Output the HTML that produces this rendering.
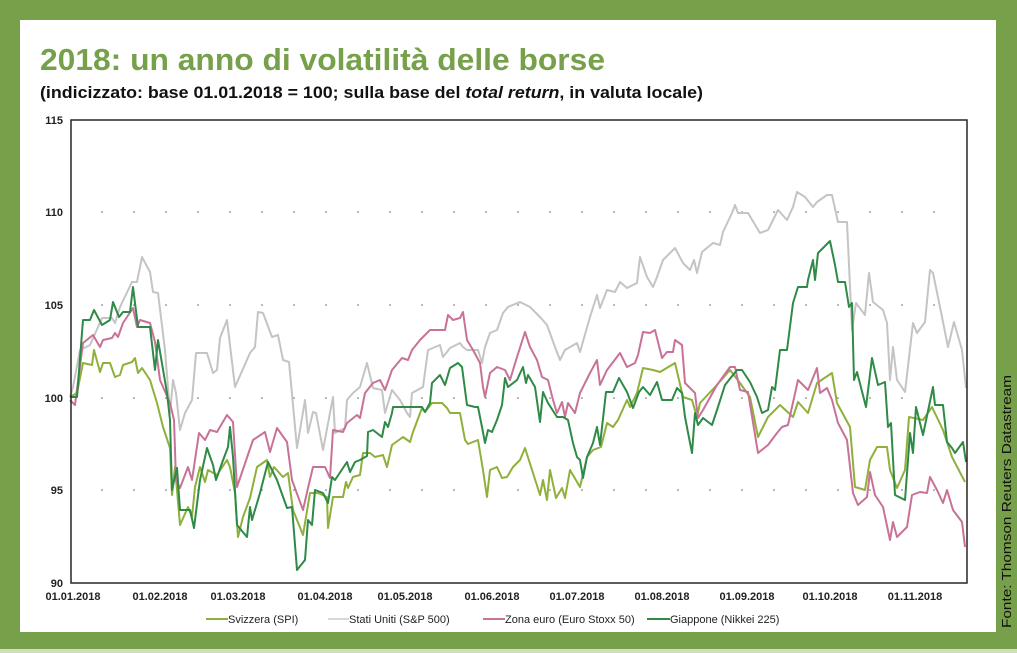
<!DOCTYPE html>
<html><head><meta charset="utf-8"><style>
html,body{margin:0;padding:0;background:#77a04a;}
svg{display:block;font-family:"Liberation Sans",sans-serif;}
</style></head><body>
<svg width="1017" height="653" viewBox="0 0 1017 653" xmlns="http://www.w3.org/2000/svg">
<rect x="0" y="0" width="1017" height="653" fill="#77a04a"/>
<rect x="0" y="649" width="1017" height="4" fill="#cfdcc0"/>
<rect x="20" y="20" width="976" height="612" fill="#ffffff"/>
<text x="40" y="70" font-size="31" font-weight="bold" fill="#77a04a" textLength="565" lengthAdjust="spacingAndGlyphs">2018: un anno di volatilità delle borse</text>
<text x="40" y="98" font-size="17" font-weight="bold" fill="#111" textLength="663" lengthAdjust="spacingAndGlyphs">(indicizzato: base 01.01.2018 = 100; sulla base del <tspan font-style="italic">total return</tspan>, in valuta locale)</text>
<g fill="#555">
<g id="dots"></g>
</g>
<g font-size="11" font-weight="bold" fill="#222" text-anchor="end">
<text x="63" y="124">115</text><text x="63" y="216">110</text><text x="63" y="309">105</text><text x="63" y="402">100</text><text x="63" y="494">95</text><text x="63" y="587">90</text>
</g>
<g font-size="11" font-weight="bold" fill="#222" text-anchor="middle">
<text x="73" y="600">01.01.2018</text><text x="160" y="600">01.02.2018</text><text x="238" y="600">01.03.2018</text><text x="325" y="600">01.04.2018</text><text x="405" y="600">01.05.2018</text><text x="492" y="600">01.06.2018</text><text x="577" y="600">01.07.2018</text><text x="662" y="600">01.08.2018</text><text x="747" y="600">01.09.2018</text><text x="830" y="600">01.10.2018</text><text x="915" y="600">01.11.2018</text>
</g>
<g fill="#666">
<circle cx="102" cy="212" r="0.8"/><circle cx="134" cy="212" r="0.8"/><circle cx="166" cy="212" r="0.8"/><circle cx="198" cy="212" r="0.8"/><circle cx="230" cy="212" r="0.8"/><circle cx="262" cy="212" r="0.8"/><circle cx="294" cy="212" r="0.8"/><circle cx="326" cy="212" r="0.8"/><circle cx="358" cy="212" r="0.8"/><circle cx="390" cy="212" r="0.8"/><circle cx="422" cy="212" r="0.8"/><circle cx="454" cy="212" r="0.8"/><circle cx="486" cy="212" r="0.8"/><circle cx="518" cy="212" r="0.8"/><circle cx="550" cy="212" r="0.8"/><circle cx="582" cy="212" r="0.8"/><circle cx="614" cy="212" r="0.8"/><circle cx="646" cy="212" r="0.8"/><circle cx="678" cy="212" r="0.8"/><circle cx="710" cy="212" r="0.8"/><circle cx="742" cy="212" r="0.8"/><circle cx="774" cy="212" r="0.8"/><circle cx="806" cy="212" r="0.8"/><circle cx="838" cy="212" r="0.8"/><circle cx="870" cy="212" r="0.8"/><circle cx="902" cy="212" r="0.8"/><circle cx="934" cy="212" r="0.8"/>
</g>
<g fill="#666">
<circle cx="102" cy="305" r="0.8"/><circle cx="134" cy="305" r="0.8"/><circle cx="166" cy="305" r="0.8"/><circle cx="198" cy="305" r="0.8"/><circle cx="230" cy="305" r="0.8"/><circle cx="262" cy="305" r="0.8"/><circle cx="294" cy="305" r="0.8"/><circle cx="326" cy="305" r="0.8"/><circle cx="358" cy="305" r="0.8"/><circle cx="390" cy="305" r="0.8"/><circle cx="422" cy="305" r="0.8"/><circle cx="454" cy="305" r="0.8"/><circle cx="486" cy="305" r="0.8"/><circle cx="518" cy="305" r="0.8"/><circle cx="550" cy="305" r="0.8"/><circle cx="582" cy="305" r="0.8"/><circle cx="614" cy="305" r="0.8"/><circle cx="646" cy="305" r="0.8"/><circle cx="678" cy="305" r="0.8"/><circle cx="710" cy="305" r="0.8"/><circle cx="742" cy="305" r="0.8"/><circle cx="774" cy="305" r="0.8"/><circle cx="806" cy="305" r="0.8"/><circle cx="838" cy="305" r="0.8"/><circle cx="870" cy="305" r="0.8"/><circle cx="902" cy="305" r="0.8"/><circle cx="934" cy="305" r="0.8"/>
<circle cx="102" cy="398" r="0.8"/><circle cx="134" cy="398" r="0.8"/><circle cx="166" cy="398" r="0.8"/><circle cx="198" cy="398" r="0.8"/><circle cx="230" cy="398" r="0.8"/><circle cx="262" cy="398" r="0.8"/><circle cx="294" cy="398" r="0.8"/><circle cx="326" cy="398" r="0.8"/><circle cx="358" cy="398" r="0.8"/><circle cx="390" cy="398" r="0.8"/><circle cx="422" cy="398" r="0.8"/><circle cx="454" cy="398" r="0.8"/><circle cx="486" cy="398" r="0.8"/><circle cx="518" cy="398" r="0.8"/><circle cx="550" cy="398" r="0.8"/><circle cx="582" cy="398" r="0.8"/><circle cx="614" cy="398" r="0.8"/><circle cx="646" cy="398" r="0.8"/><circle cx="678" cy="398" r="0.8"/><circle cx="710" cy="398" r="0.8"/><circle cx="742" cy="398" r="0.8"/><circle cx="774" cy="398" r="0.8"/><circle cx="806" cy="398" r="0.8"/><circle cx="838" cy="398" r="0.8"/><circle cx="870" cy="398" r="0.8"/><circle cx="902" cy="398" r="0.8"/><circle cx="934" cy="398" r="0.8"/>
<circle cx="102" cy="490" r="0.8"/><circle cx="134" cy="490" r="0.8"/><circle cx="166" cy="490" r="0.8"/><circle cx="198" cy="490" r="0.8"/><circle cx="230" cy="490" r="0.8"/><circle cx="262" cy="490" r="0.8"/><circle cx="294" cy="490" r="0.8"/><circle cx="326" cy="490" r="0.8"/><circle cx="358" cy="490" r="0.8"/><circle cx="390" cy="490" r="0.8"/><circle cx="422" cy="490" r="0.8"/><circle cx="454" cy="490" r="0.8"/><circle cx="486" cy="490" r="0.8"/><circle cx="518" cy="490" r="0.8"/><circle cx="550" cy="490" r="0.8"/><circle cx="582" cy="490" r="0.8"/><circle cx="614" cy="490" r="0.8"/><circle cx="646" cy="490" r="0.8"/><circle cx="678" cy="490" r="0.8"/><circle cx="710" cy="490" r="0.8"/><circle cx="742" cy="490" r="0.8"/><circle cx="774" cy="490" r="0.8"/><circle cx="806" cy="490" r="0.8"/><circle cx="838" cy="490" r="0.8"/><circle cx="870" cy="490" r="0.8"/><circle cx="902" cy="490" r="0.8"/><circle cx="934" cy="490" r="0.8"/>
</g>
<g fill="none" stroke-width="2" stroke-linejoin="round">
<polyline stroke="#c4c4c4" points="70,397 73,387 80,350 90,345 102,318 112,318 115,323 120,307 132,282 137,282 142,257 150,272 153,292 158,293 165,350 170,413 173,380 176,393 180,430 185,413 192,400 196,353 207,353 213,373 217,370 220,338 227,320 235,387 250,353 255,347 258,312 263,313 272,337 278,335 283,360 289,362 297,448 305,400 308,433 313,412 316,413 323,450 333,397 335,433 345,428 347,400 353,393 360,387 367,363 373,388 382,390 385,413 392,390 400,400 407,413 410,417 412,393 423,387 428,350 440,345 443,357 450,348 460,343 463,347 467,350 478,350 482,363 485,347 490,333 497,330 503,313 508,307 520,302 530,307 540,317 547,325 555,347 560,360 565,350 577,343 580,352 590,317 597,295 600,308 607,290 615,292 620,282 627,288 637,283 640,257 647,277 653,287 657,277 663,260 675,248 683,263 690,270 694,260 697,273 702,252 713,243 720,245 723,232 732,213 735,205 738,213 748,213 760,233 768,230 778,210 787,220 793,207 797,192 805,197 813,207 817,202 827,195 832,195 838,222 847,222 852,330 856,303 865,315 869,273 873,302 883,310 887,323 890,380 893,347 897,380 905,392 913,323 917,333 925,322 930,270 933,273 940,307 945,332 948,347 954,322 962,350 966,388"/>
<polyline stroke="#8fb03a" points="70,397 77,393 83,363 92,365 94,350 100,372 103,363 110,363 115,377 120,375 123,365 132,362 135,358 138,373 142,368 150,380 157,403 163,427 170,448 172,495 175,467 180,525 188,507 192,517 195,487 200,467 205,482 208,470 217,475 227,460 230,467 235,493 238,537 243,517 250,498 257,467 267,460 270,477 274,467 283,477 288,473 293,510 303,535 310,493 318,493 327,497 328,528 333,497 343,497 346,482 348,488 353,477 360,475 363,453 370,453 375,457 383,455 387,467 392,445 403,437 410,442 413,432 422,408 425,412 432,403 442,403 447,408 450,413 460,413 465,440 468,444 478,440 483,470 487,497 490,470 497,467 502,478 507,477 513,467 520,460 525,448 533,473 540,495 543,480 547,500 550,470 556,498 562,488 565,498 570,470 580,487 587,457 593,450 601,447 607,423 613,427 618,420 627,400 630,407 637,393 643,368 653,370 660,372 675,363 683,397 692,400 697,417 700,403 715,387 730,370 740,383 750,397 758,437 768,417 780,405 793,417 798,402 808,413 817,383 832,373 837,403 850,427 855,487 865,490 870,460 877,447 887,447 890,470 897,488 905,470 909,417 923,420 932,407 943,430 952,457 965,482"/>
<polyline stroke="#c97298" points="70,400 75,405 83,343 93,335 100,347 103,340 112,338 115,333 118,337 123,323 133,308 137,327 140,320 150,323 155,342 160,380 170,403 174,420 176,480 180,488 188,467 192,480 199,433 205,440 210,430 217,432 227,415 233,422 237,487 253,440 265,432 270,452 277,428 287,442 292,480 303,510 308,488 313,467 325,467 330,478 333,430 343,432 347,423 357,415 360,418 365,393 373,383 380,380 385,390 392,370 402,358 408,360 412,350 420,340 425,335 430,330 445,330 448,315 453,320 460,318 463,312 467,340 473,350 480,363 483,387 485,397 490,373 497,367 505,370 510,380 517,357 525,332 530,347 537,360 542,377 548,380 553,400 557,413 562,402 565,417 568,403 575,413 580,393 590,373 597,360 600,385 607,370 620,353 627,367 635,363 638,355 643,332 650,333 655,330 662,358 667,352 673,352 675,340 682,345 685,383 692,390 695,393 698,418 703,410 717,385 730,367 735,367 740,390 748,392 758,453 768,445 777,433 782,427 788,425 798,380 808,390 817,368 820,393 827,388 832,400 838,423 847,440 853,493 858,505 867,497 870,472 875,495 883,507 890,540 893,522 897,537 907,527 912,495 920,492 927,493 930,477 937,490 943,503 947,490 953,510 962,522 965,547"/>
<polyline stroke="#2f8a47" points="70,397 77,397 83,320 90,320 94,310 102,325 110,320 113,302 119,317 123,312 130,312 133,287 138,327 150,327 155,370 158,340 167,393 170,420 172,490 177,468 180,510 190,510 194,528 200,480 207,448 213,465 216,480 222,463 228,447 230,427 233,457 237,525 247,537 250,507 252,520 260,493 268,462 277,480 287,508 292,507 297,570 305,560 308,520 312,525 315,490 323,493 328,503 332,477 335,480 347,462 350,472 355,462 360,460 367,456 368,432 373,430 382,437 385,422 388,427 392,413 393,407 405,407 422,407 425,412 430,403 432,383 440,375 445,385 450,368 458,363 462,367 467,405 475,407 478,407 482,427 485,443 488,430 492,432 497,420 502,405 505,378 508,387 517,380 523,367 526,383 528,375 535,387 540,422 543,392 548,403 557,417 563,417 568,420 573,443 577,457 580,460 583,478 587,457 593,443 597,427 600,445 606,392 613,392 619,378 627,392 633,408 639,392 643,387 650,395 657,382 662,400 672,400 677,388 682,393 685,417 692,453 695,413 698,425 703,418 712,425 717,410 725,385 737,370 742,370 750,382 757,397 762,413 768,410 772,387 775,390 780,350 787,350 793,303 798,287 807,287 808,280 813,260 815,280 818,253 830,241 835,265 838,282 845,282 849,307 852,303 854,380 857,372 866,407 872,358 878,385 885,382 888,427 891,423 895,495 905,500 910,433 913,453 916,407 923,435 933,387 935,405 943,405 947,442 952,448 955,453 963,442 966,462"/>
</g>
<rect x="71" y="120" width="896" height="463" fill="none" stroke="#2a2522" stroke-width="1.5"/>
<g font-size="11" fill="#222">
<line x1="206" y1="619" x2="228" y2="619" stroke="#8fb03a" stroke-width="2"/><text x="228" y="623">Svizzera (SPI)</text>
<line x1="328" y1="619" x2="349" y2="619" stroke="#d8d8d8" stroke-width="2"/><text x="349" y="623">Stati Uniti (S&amp;P 500)</text>
<line x1="483" y1="619" x2="505" y2="619" stroke="#c97298" stroke-width="2"/><text x="505" y="623">Zona euro (Euro Stoxx 50)</text>
<line x1="647" y1="619" x2="670" y2="619" stroke="#2f8a47" stroke-width="2"/><text x="670" y="623">Giappone (Nikkei 225)</text>
</g>
<text transform="translate(1011,628) rotate(-90)" font-size="13" fill="#111" textLength="253" lengthAdjust="spacingAndGlyphs">Fonte: Thomson Reuters Datastream</text>
</svg>
</body></html>
